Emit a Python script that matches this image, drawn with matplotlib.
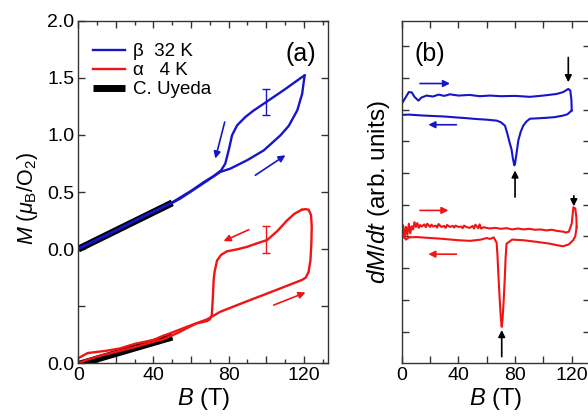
import numpy as np
import matplotlib
matplotlib.use("Agg")
import matplotlib.pyplot as plt
from matplotlib.ticker import MultipleLocator, FixedLocator, FuncFormatter

plt.rcParams['font.family'] = ['Liberation Sans', 'DejaVu Sans']
plt.rcParams['mathtext.fontset'] = 'custom'
plt.rcParams['mathtext.rm'] = 'Liberation Sans'
plt.rcParams['mathtext.it'] = 'Liberation Sans:italic'

BLUE = '#1616c8'
RED = '#f01414'

# ---- panel (a): M(B) loops, red one shifted down by 1 ----
beta_up_B = [0, 10, 20, 30, 40, 50, 54, 60, 66.7, 75.6, 80.9, 89.8, 98.7, 107.6, 112, 116.5, 119.1, 120.4]
beta_up_M = [0, 0.08, 0.16, 0.245, 0.325, 0.405, 0.44, 0.505, 0.578, 0.676, 0.705, 0.778, 0.865, 0.997, 1.08, 1.215, 1.36, 1.52]
beta_dn_B = [120.4, 119, 110, 100, 93, 88.9, 84.5, 81.8, 80, 78.2, 76, 72, 66.7, 60, 50, 40, 30, 20, 10, 0]
beta_dn_M = [1.52, 1.506, 1.40, 1.288, 1.21, 1.157, 1.084, 0.997, 0.865, 0.749, 0.69, 0.64, 0.586, 0.51, 0.41, 0.33, 0.25, 0.165, 0.085, 0.005]

alpha_up_B = [0, 5, 10, 15, 22, 30, 40, 45, 48.9, 57.8, 68.5, 75.6, 90, 105, 119, 121, 122.5, 123.5, 124, 124.2, 123.8, 122.5, 121, 119]
alpha_up_M = [0.045, 0.09, 0.10, 0.11, 0.13, 0.17, 0.205, 0.24, 0.263, 0.32, 0.385, 0.452, 0.545, 0.64, 0.73, 0.75, 0.80, 0.90, 1.05, 1.2, 1.3, 1.345, 1.35, 1.345]
alpha_dn_B = [119, 115, 111, 106, 100.5, 95, 89.8, 85, 79, 76, 73.8, 72.5, 72, 71.5, 71, 70, 68.5, 63, 58, 52.5, 45, 38, 31, 20, 13.3, 4.4, 0]
alpha_dn_M = [1.345, 1.31, 1.25, 1.16, 1.08, 1.05, 1.02, 1.0, 0.98, 0.95, 0.9, 0.8, 0.73, 0.55, 0.42, 0.385, 0.37, 0.35, 0.31, 0.263, 0.21, 0.18, 0.146, 0.10, 0.073, 0.03, 0.0]
alpha_offset = -1.0

uyeda_B = [0, 50]
uyeda_beta_M = [0, 0.405]
uyeda_alpha_M = [-0.01, 0.23]

err_B = 100
err_beta_M = 1.288
err_alpha_M = 1.085
err_size = 0.115

# ---- panel (b): dM/dt, arbitrary units ----
dbeta_up_B = [0, 3, 5, 7.1, 9, 11.8, 14, 17.6, 22, 26, 30, 34, 40, 48, 55, 62.3, 70, 80, 90.5, 100, 109.3, 114, 117.6, 119, 119.8, 120]
dbeta_up_y = [8.18, 8.4, 8.55, 8.54, 8.4, 8.28, 8.38, 8.44, 8.41, 8.47, 8.43, 8.48, 8.44, 8.46, 8.42, 8.44, 8.42, 8.43, 8.40, 8.44, 8.49, 8.55, 8.65, 8.6, 8.3, 7.97]
dbeta_dn_B = [120, 117, 114, 108, 102.4, 95, 90.5, 88, 85.8, 84, 82.3, 81, 80, 79.5, 78.5, 77.5, 76.4, 74.5, 72.9, 70, 67, 60, 52.9, 45, 38.8, 30, 15.3, 5, 0]
dbeta_dn_y = [7.97, 7.85, 7.81, 7.76, 7.74, 7.72, 7.71, 7.62, 7.49, 7.3, 7.02, 6.6, 6.3, 6.24, 6.45, 6.75, 6.92, 7.25, 7.49, 7.6, 7.65, 7.68, 7.7, 7.73, 7.75, 7.78, 7.81, 7.84, 7.83]

dalpha_up_B = [0, 1, 2, 3, 4, 5, 6, 7, 8, 9, 10, 11, 12, 13, 14, 16, 17, 18, 20, 21, 22, 24, 25, 26, 28, 30, 31, 32, 34, 36, 37, 38, 40, 42, 43, 44, 46, 48, 50, 51, 52, 54, 55, 56, 58, 62, 66, 70, 74, 78, 82, 86, 90, 94, 98, 102, 106, 110, 114, 116, 118, 120, 121.2, 122.5, 123.3, 123.5]
dalpha_up_y = [4.14, 4.35, 3.95, 4.3, 4.05, 4.4, 4.1, 4.32, 4.22, 4.45, 4.3, 4.42, 4.27, 4.36, 4.31, 4.38, 4.29, 4.4, 4.3, 4.37, 4.31, 4.34, 4.28, 4.39, 4.3, 4.33, 4.27, 4.36, 4.3, 4.33, 4.28, 4.34, 4.3, 4.31, 4.26, 4.34, 4.29, 4.27, 4.33, 4.25, 4.37, 4.26, 4.38, 4.25, 4.29, 4.25, 4.27, 4.24, 4.26, 4.22, 4.25, 4.22, 4.24, 4.21, 4.22, 4.19, 4.21, 4.17, 4.15, 4.12, 4.15, 4.4, 4.92, 4.88, 4.6, 4.3]
dalpha_dn_B = [123.5, 122.5, 121, 118, 114, 110, 104.8, 95, 85.8, 78, 74, 73.3, 72.9, 72, 71.2, 70.6, 70, 69.2, 68.2, 67.6, 67, 65, 62.3, 60, 56, 48.2, 40, 27, 20, 10.6, 5, 3, 1.5, 0]
dalpha_dn_y = [4.3, 4.0, 3.88, 3.75, 3.69, 3.72, 3.77, 3.83, 3.88, 3.9, 3.77, 3.3, 2.83, 2.0, 1.4, 1.15, 1.4, 2.0, 2.83, 3.4, 3.8, 3.97, 3.92, 3.95, 3.9, 3.86, 3.88, 3.93, 3.95, 3.98, 3.97, 3.9, 4.0, 3.98]

# arrows: (x_tail, y_tail, x_head, y_head, colour)
arrows_a = [(77.9, 1.113, 72.9, 0.793, BLUE), (94.2, 0.647, 110.2, 0.822, BLUE),
            (90.7, 0.17, 77.3, 0.07, RED), (104, -0.49, 120.9, -0.38, RED)]
arrows_b = [(12.9, 8.82, 34.1, 8.82, BLUE), (38.6, 7.52, 18.8, 7.52, BLUE),
            (12.9, 4.82, 33, 4.82, RED), (38.6, 3.44, 18.8, 3.44, RED),
            (117.6, 9.64, 117.6, 8.86, 'k'), (80, 5.24, 80, 6.08, 'k'),
            (121.5, 5.28, 121.5, 4.95, 'k'), (70.6, 0.21, 70.6, 1.05, 'k')]

fig = plt.figure(figsize=(5.88, 4.19), dpi=100)
ax1 = fig.add_axes([0.1332, 0.1329, 0.4251, 0.8177])
ax2 = fig.add_axes([0.6832, 0.1329, 0.3204, 0.8177])

for ax in (ax1, ax2):
    for sp in ax.spines.values():
        sp.set_color('#333333')
        sp.set_linewidth(1.0)
    ax.tick_params(which='both', direction='in', top=True, right=True,
                   color='#333333', labelsize=14, pad=3)
    ax.tick_params(which='major', length=5, width=1)
    ax.tick_params(which='minor', length=3, width=1)

# panel a
ax1.plot(uyeda_B, uyeda_beta_M, color='k', lw=5, solid_capstyle='butt', label='C. Uyeda')
ax1.plot(uyeda_B, np.array(uyeda_alpha_M) + alpha_offset, color='k', lw=5, solid_capstyle='butt')
ax1.plot(beta_up_B, beta_up_M, color=BLUE, lw=1.7, label='β  32 K')
ax1.plot(beta_dn_B, beta_dn_M, color=BLUE, lw=1.7)
ax1.plot(alpha_up_B, np.array(alpha_up_M) + alpha_offset, color=RED, lw=1.7, label='α   4 K')
ax1.plot(alpha_dn_B, np.array(alpha_dn_M) + alpha_offset, color=RED, lw=1.7)
ax1.errorbar([err_B], [err_beta_M], yerr=err_size, color=BLUE, lw=1, capsize=3)
ax1.errorbar([err_B], [err_alpha_M + alpha_offset], yerr=err_size, color=RED, lw=1, capsize=3)
for x0, y0, x1, y1, c in arrows_a:
    ax1.annotate('', xy=(x1, y1), xytext=(x0, y0),
                 arrowprops=dict(arrowstyle='-|>', color=c, lw=1.2, mutation_scale=10, shrinkA=0, shrinkB=0))

ax1.set_xlim(0, 133)
ax1.set_ylim(-1.0, 2.0)
ax1.xaxis.set_major_locator(MultipleLocator(20))
ax1.xaxis.set_minor_locator(MultipleLocator(10))
ax1.xaxis.set_major_formatter(FuncFormatter(lambda v, p: '%d' % v if v % 40 == 0 else ''))
ax1.yaxis.set_major_locator(FixedLocator([-1.0, -0.5, 0, 0.5, 1.0, 1.5, 2.0]))
ax1.set_yticklabels(['0.0', '', '0.0', '0.5', '1.0', '1.5', '2.0'])
ax1.set_xlabel(r'$B$ (T)', fontsize=17, labelpad=1)
ax1.set_ylabel(r'$M$ ($\mu_{\rm B}$/O$_2$)', fontsize=15.5, va='center')
ax1.yaxis.set_label_coords(-0.205, 0.48)
ax1.text(118.2, 1.71, '(a)', fontsize=18, ha='center', va='center')

handles, labels = ax1.get_legend_handles_labels()
order = [1, 2, 0]
ax1.legend([handles[i] for i in order], [labels[i] for i in order],
           loc='upper left', bbox_to_anchor=(0.06, 0.935), frameon=False,
           fontsize=13.5, handlelength=1.7, handletextpad=0.4, labelspacing=0.1,
           borderaxespad=0, borderpad=0)

# panel b
ax2.plot(dbeta_up_B, dbeta_up_y, color=BLUE, lw=1.5)
ax2.plot(dbeta_dn_B, dbeta_dn_y, color=BLUE, lw=1.5)
ax2.plot(dalpha_up_B, dalpha_up_y, color=RED, lw=1.5)
ax2.plot(dalpha_dn_B, dalpha_dn_y, color=RED, lw=1.5)
for x0, y0, x1, y1, c in arrows_b:
    ax2.annotate('', xy=(x1, y1), xytext=(x0, y0),
                 arrowprops=dict(arrowstyle='-|>', color=c, lw=1.2, mutation_scale=10, shrinkA=0, shrinkB=0))

ax2.set_xlim(0, 133)
ax2.set_ylim(0, 10.8)
ax2.xaxis.set_major_locator(MultipleLocator(20))
ax2.xaxis.set_major_formatter(FuncFormatter(lambda v, p: '%d' % v if v % 40 == 0 else ''))
ax2.set_yticks(range(1, 11))
ax2.set_yticklabels([])
ax2.set_xlabel(r'$B$ (T)', fontsize=17, labelpad=1)
ax2.set_ylabel(r'$dM/dt$ (arb. units)', fontsize=17.5, va='center')
ax2.yaxis.set_label_coords(-0.125, 0.5)
ax2.text(20, 9.75, '(b)', fontsize=18, ha='center', va='center')

fig.savefig('out.png', dpi=100)
